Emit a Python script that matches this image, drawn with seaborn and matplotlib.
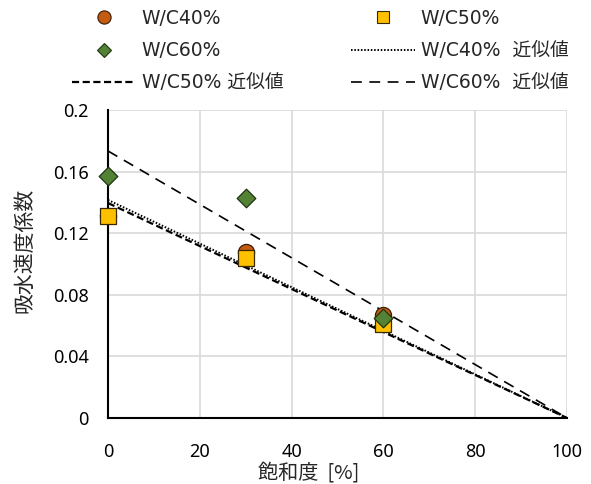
import numpy as np
import pandas as pd
import matplotlib
matplotlib.use("Agg")
import matplotlib.pyplot as plt
from matplotlib.lines import Line2D
import seaborn as sns

# Measured absorption coefficients by saturation degree
saturation = [0, 30, 60]
wc40 = [0.131, 0.108, 0.067]
wc50 = [0.131, 0.104, 0.061]
wc60 = [0.157, 0.143, 0.065]

# Fitted lines (intercept at 0 %, reaching zero at 100 %)
fit_x = [0, 100]
fit40 = [0.1416, 0.0]
fit50 = [0.1396, 0.0]
fit60 = [0.1734, 0.0]

yticks = [0, 0.04, 0.08, 0.12, 0.16, 0.2]
xticks = [0, 20, 40, 60, 80, 100]

sns.set_theme(style="white")
plt.rcParams["font.family"] = ["DejaVu Sans", "Noto Sans CJK JP"]
tick_font = ["Noto Sans", "Noto Sans CJK JP"]

fig = plt.figure(figsize=(5.91, 4.84), dpi=100)
ax = fig.add_axes([0.1827, 0.1364, 0.7767, 0.6363])

ls40 = (0, (0.8, 0.9))
ls50 = (0, (3.2, 1.6))
ls60 = (0, (6.5, 4.5))
ax.plot(fit_x, fit40, color="black", linestyle=ls40, linewidth=1.4)
ax.plot(fit_x, fit50, color="black", linestyle=ls50, linewidth=1.6)
ax.plot(fit_x, fit60, color="black", linestyle=ls60, linewidth=1.2)

c40, c50, c60 = "#C55A11", "#FFC000", "#548235"
e40, e50, e60 = "#3a1a05", "#3a2a00", "#1f3310"
df40 = pd.DataFrame({"x": saturation, "y": wc40})
df50 = pd.DataFrame({"x": saturation, "y": wc50})
df60 = pd.DataFrame({"x": saturation, "y": wc60})
sns.scatterplot(data=df40, x="x", y="y", ax=ax, marker="o", s=135, color=c40,
                edgecolor=e40, linewidth=0.9, zorder=3, legend=False)
sns.scatterplot(data=df50, x="x", y="y", ax=ax, marker="s", s=140, color=c50,
                edgecolor=e50, linewidth=0.9, zorder=4, legend=False)
sns.scatterplot(data=df60, x="x", y="y", ax=ax, marker="D", s=90, color=c60,
                edgecolor=e60, linewidth=0.9, zorder=5, legend=False)
for coll in ax.collections:
    coll.set_clip_on(False)

ax.set_xlim(0, 100)
ax.set_ylim(0, 0.2)
ax.set_xticks(xticks)
ax.set_yticks(yticks)
ax.set_xticklabels([str(v) for v in xticks], family=tick_font, fontsize=13)
ax.set_yticklabels([f"{v:g}" for v in yticks], family=tick_font, fontsize=13)
ax.tick_params(axis="x", length=0, pad=18, colors="black")
ax.tick_params(axis="y", length=0, pad=14, colors="black")
ax.grid(True, color="#d9d9d9", linewidth=1.2)
ax.set_axisbelow(True)
for side in ["top", "right"]:
    ax.spines[side].set_visible(False)
for side in ["left", "bottom"]:
    ax.spines[side].set_color("black")
    ax.spines[side].set_linewidth(1.5)
ax.set_xlabel("飽和度  [%]", fontsize=14.5, family=["Noto Sans CJK JP"])
ax.set_ylabel("吸水速度係数", fontsize=15, family=["Noto Sans CJK JP"])
ax.xaxis.set_label_coords(0.438, -0.145)
ax.yaxis.set_label_coords(-0.158, 0.545)

handles = [
    Line2D([], [], linestyle="none", marker="o", markersize=9.5, markerfacecolor=c40,
           markeredgecolor=e40, markeredgewidth=0.8),
    Line2D([], [], linestyle="none", marker="D", markersize=7, markerfacecolor=c60,
           markeredgecolor=e60, markeredgewidth=0.8),
    Line2D([], [], color="black", linestyle=ls50, linewidth=1.6),
    Line2D([], [], linestyle="none", marker="s", markersize=8.5, markerfacecolor=c50,
           markeredgecolor=e50, markeredgewidth=0.8),
    Line2D([], [], color="black", linestyle=ls40, linewidth=1.4),
    Line2D([], [], color="black", linestyle=ls60, linewidth=1.2),
]
labels = ["W/C40%", "W/C60%", "W/C50% 近似値", "W/C50%", "W/C40%  近似値", "W/C60%  近似値"]
fig.legend(handles, labels, ncol=2, loc="upper left",
           bbox_to_anchor=(72 / 591, 1 - 9 / 484), frameon=False, fontsize=13.5,
           borderpad=0, borderaxespad=0, handlelength=3.4, handletextpad=0.32,
           columnspacing=3.6, labelspacing=0.7)

fig.savefig("out.png", dpi=100)
